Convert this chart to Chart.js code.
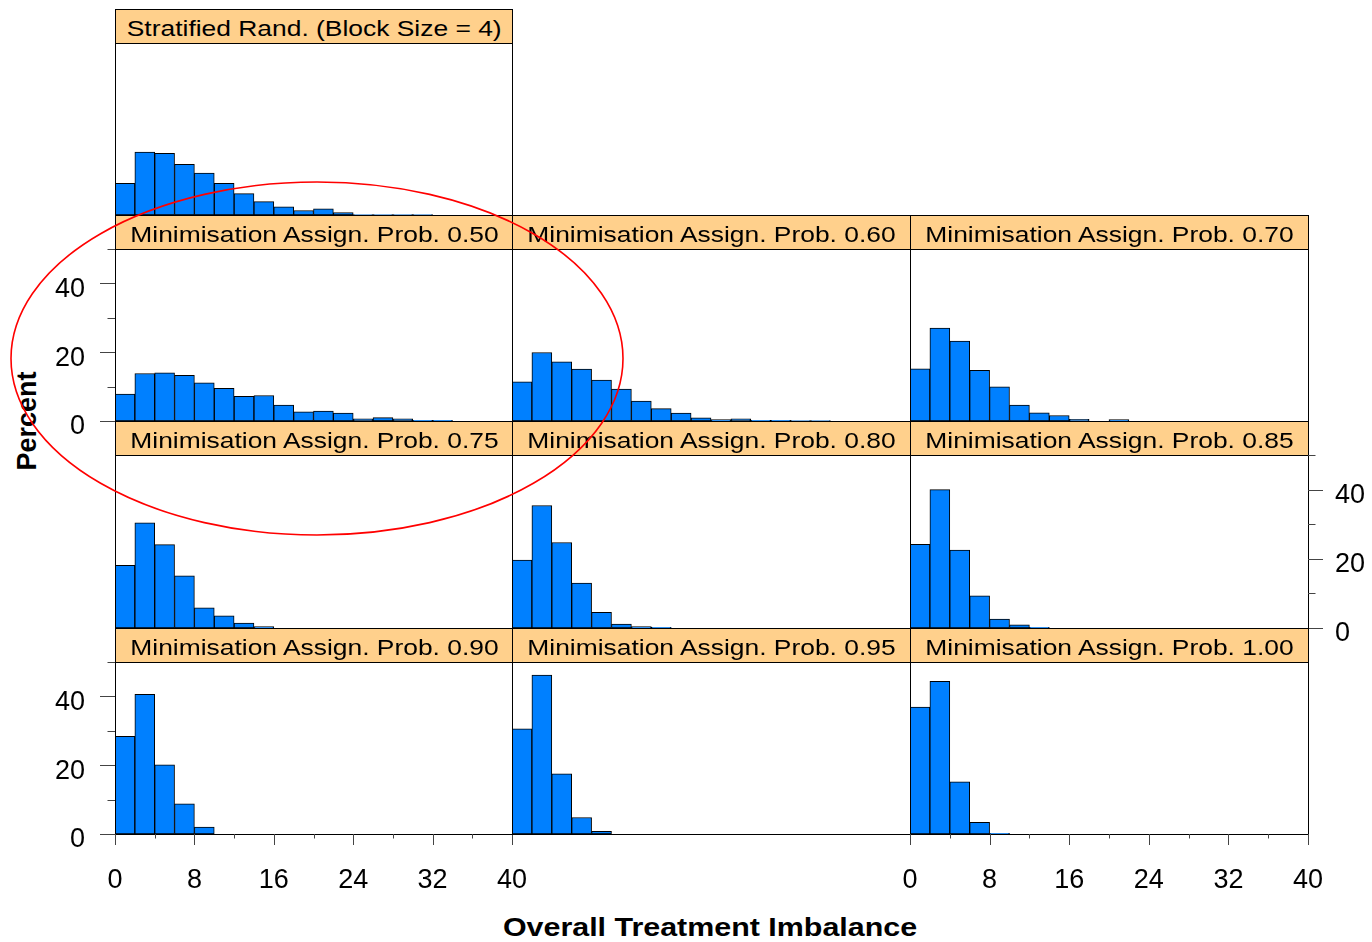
<!DOCTYPE html>
<html>
<head>
<meta charset="utf-8">
<script src="https://cdn.jsdelivr.net/npm/chart.js@4.4.0/dist/chart.umd.min.js"></script>
<style>
body { margin: 0; background: #fff; }
#page { position: relative; width: 1372px; height: 942px; overflow: hidden; font-family: "Liberation Sans", Arial, sans-serif; color: #000; }
.strip { position: absolute; box-sizing: border-box; border: 1px solid #000; background: #ffd08c; font-size: 22px; text-align: center; line-height: 38px; white-space: nowrap; }
.strip span { display: inline-block; transform: scaleX(1.2); }
canvas { position: absolute; }
#ytitle { position: absolute; left: 27px; top: 421px; transform: translate(-50%, -50%) rotate(-90deg); font-weight: bold; font-size: 27px; white-space: nowrap; }
#xtitle { position: absolute; left: 710px; top: 927px; transform: translate(-50%, -50%) scaleX(1.17); font-weight: bold; font-size: 26px; white-space: nowrap; }
#ring { position: absolute; left: 0; top: 0; }
</style>
</head>
<body>
<div id="page">
  <div id="ytitle">Percent</div>
  <div id="xtitle">Overall Treatment Imbalance</div>
</div>
<script>
// bin centres (bins of width 2 from 0 to 40)
var binMids = [1, 3, 5, 7, 9, 11, 13, 15, 17, 19, 21, 23, 25, 27, 29, 31, 33, 35, 37, 39];
var xTickLabels = [0, 8, 16, 24, 32, 40];
var yTickLabels = [0, 20, 40];

var panelTitles = [
    'Stratified Rand. (Block Size = 4)',
    'Minimisation Assign. Prob. 0.50',
    'Minimisation Assign. Prob. 0.60',
    'Minimisation Assign. Prob. 0.70',
    'Minimisation Assign. Prob. 0.75',
    'Minimisation Assign. Prob. 0.80',
    'Minimisation Assign. Prob. 0.85',
    'Minimisation Assign. Prob. 0.90',
    'Minimisation Assign. Prob. 0.95',
    'Minimisation Assign. Prob. 1.00'
];

// percent of trials in each bin
var stratBlock4 = [9.2, 18.3, 17.9, 14.7, 12.2, 9.2, 6.2, 3.9, 2.4, 1.3, 1.8, 0.7, 0.1, 0.1, 0.1, 0.1, 0, 0, 0, 0];
var minim050 = [7.8, 13.8, 14.0, 13.3, 11.1, 9.5, 7.2, 7.4, 4.6, 2.7, 2.9, 2.3, 0.6, 1.0, 0.6, 0.2, 0.2, 0, 0, 0];
var minim060 = [11.4, 19.9, 17.2, 15.1, 11.9, 9.3, 5.8, 3.6, 2.3, 0.9, 0.4, 0.6, 0.2, 0.2, 0.1, 0.1, 0, 0, 0, 0];
var minim070 = [15.2, 27.0, 23.2, 14.7, 9.9, 4.6, 2.4, 1.6, 0.5, 0, 0.4, 0, 0, 0, 0, 0, 0, 0, 0, 0];
var minim075 = [18.1, 30.4, 24.1, 15.1, 5.8, 3.5, 1.4, 0.4, 0, 0, 0, 0, 0, 0, 0, 0, 0, 0, 0, 0];
var minim080 = [19.6, 35.4, 24.7, 13.0, 4.5, 1.1, 0.4, 0.2, 0, 0, 0, 0, 0, 0, 0, 0, 0, 0, 0, 0];
var minim085 = [24.2, 40.0, 22.5, 9.3, 2.6, 0.9, 0.2, 0, 0, 0, 0, 0, 0, 0, 0, 0, 0, 0, 0, 0];
var minim090 = [28.4, 40.6, 20.1, 8.8, 2.0, 0, 0, 0, 0, 0, 0, 0, 0, 0, 0, 0, 0, 0, 0, 0];
var minim095 = [30.6, 46.2, 17.5, 4.8, 0.8, 0, 0, 0, 0, 0, 0, 0, 0, 0, 0, 0, 0, 0, 0, 0];
var minim100 = [36.9, 44.4, 15.2, 3.4, 0.2, 0, 0, 0, 0, 0, 0, 0, 0, 0, 0, 0, 0, 0, 0, 0];

var seriesList = [stratBlock4, minim050, minim060, minim070, minim075, minim080, minim085, minim090, minim095, minim100];

// lattice layout
var colX = [115, 512, 910];
var colW = [397, 398, 398];
var stripTop = [9, 215, 421, 628];
var plotTop = [43, 249, 455, 662];
var plotBot = [215, 421, 628, 834];
var padL = 115, padR = 64, padT = 50, padB = 60;
var cells = [
    { row: 0, col: 0 },
    { row: 1, col: 0, left: true },
    { row: 1, col: 1 },
    { row: 1, col: 2 },
    { row: 2, col: 0 },
    { row: 2, col: 1 },
    { row: 2, col: 2, right: true },
    { row: 3, col: 0, left: true, bottom: true },
    { row: 3, col: 1 },
    { row: 3, col: 2, bottom: true }
];

var tickFont = { family: '"Liberation Sans", Arial, sans-serif', size: 27 };

// panel box plus long/short tick marks
var panelFrame = {
    id: 'panelFrame',
    afterDraw: function(chart, args, opts) {
        var ctx = chart.ctx, a = chart.chartArea;
        var xs = chart.scales.x, ys = chart.scales.y;
        ctx.save();
        ctx.strokeStyle = '#000';
        ctx.lineWidth = 1;
        ctx.strokeRect(Math.round(a.left) + 0.5, Math.round(a.top) + 0.5, Math.round(a.right - a.left), Math.round(a.bottom - a.top));
        ctx.strokeStyle = '#444';
        ctx.beginPath();
        if (opts.bottom) {
            for (var v = 0; v <= 40; v += 4) {
                var px = Math.round(xs.getPixelForValue(v)) + 0.5;
                var len = xTickLabels.indexOf(v) >= 0 ? 11 : 4.5;
                ctx.moveTo(px, a.bottom);
                ctx.lineTo(px, a.bottom + len);
            }
        }
        if (opts.left || opts.right) {
            for (var w = 0; w <= 50; w += 10) {
                var py = Math.round(ys.getPixelForValue(w)) + 0.5;
                var l2 = yTickLabels.indexOf(w) >= 0 ? 15 : 7.5;
                if (opts.left) {
                    ctx.moveTo(a.left - l2, py);
                    ctx.lineTo(a.left, py);
                } else {
                    ctx.moveTo(a.right, py);
                    ctx.lineTo(a.right + l2, py);
                }
            }
        }
        ctx.stroke();
        ctx.restore();
    }
};

var page = document.getElementById('page');

cells.forEach(function(cell, i) {
    var w = colW[cell.col];
    var plotH = plotBot[cell.row] - plotTop[cell.row];
    var hasY = !!(cell.left || cell.right);
    var hasX = !!cell.bottom;

    var strip = document.createElement('div');
    strip.className = 'strip';
    strip.style.left = colX[cell.col] + 'px';
    strip.style.top = stripTop[cell.row] + 'px';
    strip.style.width = (w + 1) + 'px';
    strip.style.height = (plotTop[cell.row] - stripTop[cell.row] + 1) + 'px';
    var label = document.createElement('span');
    label.textContent = panelTitles[i];
    strip.appendChild(label);
    page.appendChild(strip);

    var canvas = document.createElement('canvas');
    canvas.width = w + padL + padR;
    canvas.height = plotH + padT + padB;
    canvas.style.left = (colX[cell.col] - padL) + 'px';
    canvas.style.top = (plotTop[cell.row] - padT) + 'px';
    page.appendChild(canvas);

    var series = seriesList[i];

    new Chart(canvas.getContext('2d'), {
        type: 'bar',
        data: {
            datasets: [{
                data: binMids.map(function(m, k) { return { x: m, y: series[k] }; }),
                backgroundColor: '#0080ff',
                borderColor: '#000',
                borderWidth: 1,
                borderSkipped: false,
                barPercentage: 1,
                categoryPercentage: 1
            }]
        },
        options: {
            responsive: false,
            animation: false,
            events: [],
            layout: {
                padding: {
                    left: padL - (cell.left ? 60 : 0),
                    right: padR - (cell.right ? 64 : 0),
                    top: padT,
                    bottom: hasX ? 0 : padB
                }
            },
            plugins: {
                legend: { display: false },
                tooltip: { enabled: false },
                panelFrame: { left: !!cell.left, right: !!cell.right, bottom: hasX }
            },
            scales: {
                x: {
                    type: 'linear',
                    min: 0,
                    max: 40,
                    offset: false,
                    display: hasX,
                    grid: { display: false, drawTicks: false },
                    border: { display: false },
                    ticks: {
                        stepSize: 8,
                        autoSkip: false,
                        maxRotation: 0,
                        padding: 30,
                        color: '#000',
                        font: tickFont,
                        callback: function(v) { return xTickLabels.indexOf(v) >= 0 ? v : ''; }
                    },
                    afterFit: function(s) { if (hasX) { s.height = padB; } }
                },
                y: {
                    min: 0,
                    max: 50,
                    display: hasY,
                    position: cell.right ? 'right' : 'left',
                    grid: { display: false, drawTicks: false },
                    border: { display: false },
                    ticks: {
                        stepSize: 10,
                        autoSkip: false,
                        padding: cell.right ? 27 : 30,
                        labelOffset: 6,
                        color: '#000',
                        font: tickFont,
                        callback: function(v) { return yTickLabels.indexOf(v) >= 0 ? v : ''; }
                    },
                    afterFit: function(s) { if (hasY) { s.width = cell.right ? 64 : 60; } }
                }
            }
        },
        plugins: [panelFrame]
    });
});

// red ring annotation drawn over the panels
var svgNS = 'http://www.w3.org/2000/svg';
var svg = document.createElementNS(svgNS, 'svg');
svg.setAttribute('id', 'ring');
svg.setAttribute('width', '1372');
svg.setAttribute('height', '942');
var ell = document.createElementNS(svgNS, 'ellipse');
ell.setAttribute('cx', '317');
ell.setAttribute('cy', '358.5');
ell.setAttribute('rx', '306');
ell.setAttribute('ry', '176.5');
ell.setAttribute('fill', 'none');
ell.setAttribute('stroke', '#ff0000');
ell.setAttribute('stroke-width', '1.6');
svg.appendChild(ell);
page.appendChild(svg);
</script>
</body>
</html>
